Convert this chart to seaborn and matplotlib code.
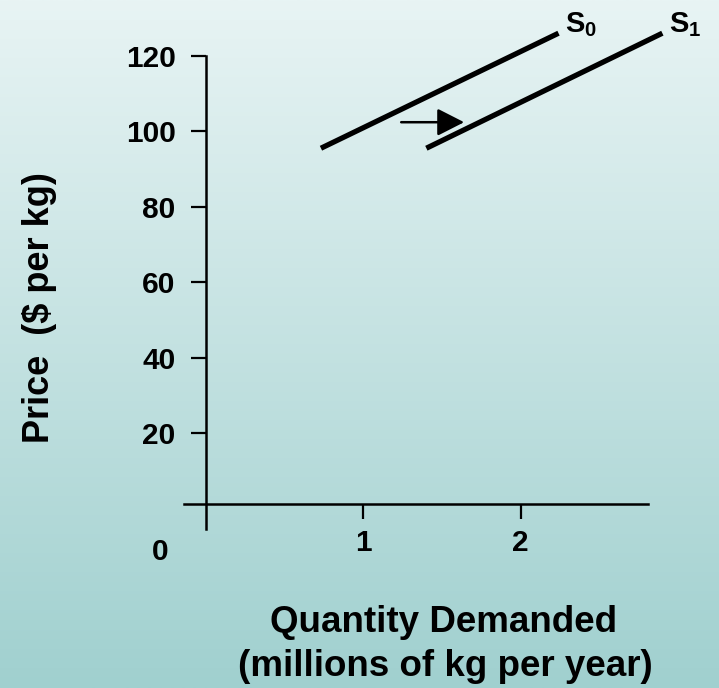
import numpy as np
import pandas as pd
import matplotlib
matplotlib.use("Agg")
import matplotlib.pyplot as plt
from matplotlib.colors import LinearSegmentedColormap
import seaborn as sns

# Supply curves: quantity (millions of kg per year) against price ($ per kg)
s0_quantity = [0.73, 2.24]
s0_price = [95.5, 126.0]
s1_quantity = [1.40, 2.90]
s1_price = [95.5, 126.0]
curve_names = ["S0", "S1"]
curve_labels = [r"$\mathbf{S_0}$", r"$\mathbf{S_1}$"]

price_ticks = [20, 40, 60, 80, 100, 120]
quantity_ticks = [1, 2]

# Rightward shift arrow
shift_from = 1.24
shift_to = 1.64
shift_price = 102.4

df = pd.DataFrame({
    "quantity": s0_quantity + s1_quantity,
    "price": s0_price + s1_price,
    "curve": [curve_names[0]] * len(s0_quantity) + [curve_names[1]] * len(s1_quantity),
})

sns.set_theme(style="white")
plt.rcParams["font.family"] = ["Liberation Sans", "DejaVu Sans"]
plt.rcParams["font.weight"] = "bold"
plt.rcParams["text.color"] = "black"
plt.rcParams["mathtext.fontset"] = "custom"
plt.rcParams["mathtext.bf"] = "Liberation Sans:bold"
plt.rcParams["mathtext.rm"] = "Liberation Sans:bold"
plt.rcParams["lines.solid_capstyle"] = "butt"

fig = plt.figure(figsize=(7.19, 6.88), dpi=100)
ax = fig.add_axes([0, 0, 1, 1])
ax.set_xlim(-1.31, 3.26)
ax.set_ylim(-47.6, 134.8)

# Vertical background gradient
grad = LinearSegmentedColormap.from_list("bg", ["#e8f4f4", "#a0d0cf"])
ax.imshow(np.linspace(0, 1, 256).reshape(-1, 1), cmap=grad, aspect="auto",
          extent=(0, 1, 0, 1), transform=ax.transAxes, interpolation="bilinear",
          zorder=0)
ax.set_facecolor("none")

sns.lineplot(data=df, x="quantity", y="price", hue="curve",
             palette=["black", "black"], linewidth=3.8, legend=False,
             ax=ax, zorder=3)

for name, lab, xs, ys in zip(curve_names, curve_labels,
                             [s0_quantity, s1_quantity], [s0_price, s1_price]):
    ax.text(xs[-1] + 0.04, ys[-1] + 2.2, lab, fontsize=21, va="center",
            ha="left", color="black")

ax.annotate("", xy=(shift_to, shift_price), xytext=(shift_from, shift_price),
            arrowprops=dict(arrowstyle="-|>,head_length=0.55,head_width=0.28",
                            lw=1.8, color="black", mutation_scale=30,
                            shrinkA=0, shrinkB=0))

# Crossing axes
for s in ["top", "right"]:
    ax.spines[s].set_visible(False)
ax.spines["left"].set_position(("data", 0))
ax.spines["left"].set_bounds(-5.4, 120)
ax.spines["bottom"].set_position(("data", 1.3))
ax.spines["bottom"].set_bounds(-0.14, 2.81)
for s in ["left", "bottom"]:
    ax.spines[s].set_linewidth(1.8)
    ax.spines[s].set_color("black")

ax.set_yticks(price_ticks)
ax.set_yticklabels([str(v) for v in price_ticks])
ax.set_xticks(quantity_ticks)
ax.set_xticklabels([str(v) for v in quantity_ticks])
ax.tick_params(axis="both", which="major", left=True, bottom=True,
               direction="out", length=11, width=1.6, color="black",
               labelsize=21.5, labelcolor="black")
ax.tick_params(axis="y", pad=11)
ax.tick_params(axis="x", pad=7)
ax.set_xlabel("")
ax.set_ylabel("")

ax.text(-0.29, -11.5, "0", fontsize=21.5, ha="center", va="center",
        color="black")

fig.text(40 / 719, 1 - 308 / 688, "Price  ($ per kg)", rotation=90,
         fontsize=26, fontweight="bold", ha="center", va="center",
         color="black")
fig.text(444 / 719, 1 - 623 / 688, "Quantity Demanded",
         fontsize=26.5, fontweight="bold", ha="center", va="center",
         color="black")
fig.text(445 / 719, 1 - 667 / 688, "(millions of kg per year)",
         fontsize=26.5, fontweight="bold", ha="center", va="center",
         color="black")

fig.savefig("out.png", dpi=100)
